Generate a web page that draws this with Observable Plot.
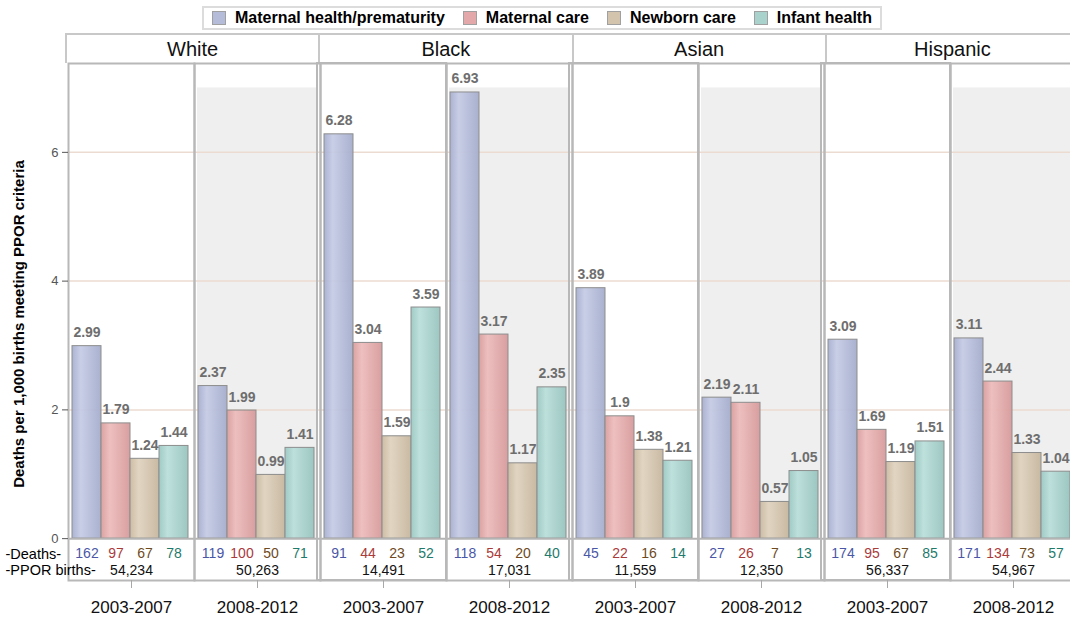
<!DOCTYPE html>
<html>
<head>
<meta charset="utf-8">
<script src="https://cdn.jsdelivr.net/npm/d3@7"></script>
<script src="https://cdn.jsdelivr.net/npm/@observablehq/plot@0.6"></script>
<style>
  html, body { margin: 0; padding: 0; background: #fff; overflow: hidden; }
  body { width: 1070px; height: 619px; position: relative; font-family: "Liberation Sans", Arial, sans-serif; }
  #legend { position: absolute; left: 202px; top: 6px; height: 18px; padding: 1px 8px 1px 8px; border: 2px solid #dcdcdc; display: flex; align-items: center; white-space: nowrap; background: #fff; }
  #legend .item { display: flex; align-items: center; margin-right: 18px; font-weight: bold; font-size: 16px; color: #000; }
  #legend .item:last-child { margin-right: 0; }
  #legend .sw { width: 14px; height: 14px; border: 1px solid #a0a0a0; margin-right: 9px; box-sizing: border-box; }
  #headers { position: absolute; top: 33px; left: 65px; height: 30px; display: flex; }
  #headers .h { height: 30px; box-sizing: border-box; border-top: 2px solid #c8c8c8; border-left: 2px solid #c8c8c8; font-size: 20px; color: #111; display: flex; align-items: center; justify-content: center; }
  #ylabel { position: absolute; left: 18px; top: 324px; transform: translate(-50%, -50%) rotate(-90deg); font-weight: bold; font-size: 15px; white-space: nowrap; color: #000; }
  #chart { position: absolute; left: 0; top: 30px; width: 1078px; }
</style>
</head>
<body>
<div id="legend"></div>
<div id="headers"></div>
<div id="ylabel">Deaths per 1,000 births meeting PPOR criteria</div>
<div id="chart"></div>
<script>
// ---- Data ----
const races = ["White", "Black", "Asian", "Hispanic"];
const periods = ["2003-2007", "2008-2012"];
const causes = ["Maternal health/prematurity", "Maternal care", "Newborn care", "Infant health"];

// rates (deaths per 1,000 PPOR births), per race, per period, per cause
const ratesWhite    = [[2.99, 1.79, 1.24, 1.44], [2.37, 1.99, 0.99, 1.41]];
const ratesBlack    = [[6.28, 3.04, 1.59, 3.59], [6.93, 3.17, 1.17, 2.35]];
const ratesAsian    = [[3.89, 1.9, 1.38, 1.21], [2.19, 2.11, 0.57, 1.05]];
const ratesHispanic = [[3.09, 1.69, 1.19, 1.51], [3.11, 2.44, 1.33, 1.04]];

// death counts
const deathsWhite    = [[162, 97, 67, 78], [119, 100, 50, 71]];
const deathsBlack    = [[91, 44, 23, 52], [118, 54, 20, 40]];
const deathsAsian    = [[45, 22, 16, 14], [27, 26, 7, 13]];
const deathsHispanic = [[174, 95, 67, 85], [171, 134, 73, 57]];

// PPOR births
const birthsWhite    = [54234, 50263];
const birthsBlack    = [14491, 17031];
const birthsAsian    = [11559, 12350];
const birthsHispanic = [56337, 54967];

const yTicks = [0, 2, 4, 6];
const shadeTop = 7;
const rowLabels = ["-Deaths-", "-PPOR births-"];

// ---- Styles ----
const barColors = ["#b5bcd9", "#e3a9aa", "#d3c4ad", "#a9d2cd"];
const gradStops = [
  ["#a7afd0", "#c6cce5", "#a5adcd"],
  ["#d99d9e", "#edbcbc", "#d79a9b"],
  ["#c9b9a0", "#e0d3bf", "#c6b69e"],
  ["#9cc8c3", "#badfda", "#99c4bf"]
];
const deathColors = ["#4a57a6", "#a93b3b", "#6e4a1c", "#1f7a6b"];

// ---- Build table ----
const allRates = [ratesWhite, ratesBlack, ratesAsian, ratesHispanic];
const allDeaths = [deathsWhite, deathsBlack, deathsAsian, deathsHispanic];
const allBirths = [birthsWhite, birthsBlack, birthsAsian, birthsHispanic];

const groupKey = (r, p) => races[r] + "|" + periods[p];
const groupKeys = [];
const rows = [];
const groups = [];
races.forEach((race, r) => {
  periods.forEach((period, p) => {
    const g = groupKey(r, p);
    groupKeys.push(g);
    groups.push({group: g, race, period, births: allBirths[r][p]});
    causes.forEach((cause, c) => {
      rows.push({group: g, race, period, cause, ci: c, rate: allRates[r][p][c], deaths: allDeaths[r][p][c]});
    });
  });
});
const shadeKeys = groups.filter(d => d.period === periods[1]).map(d => d.group);
const panelStartKeys = groups.filter(d => d.period === periods[0] && d.race !== races[0]).map(d => d.group);

// ---- Legend (HTML) ----
const legend = document.getElementById("legend");
causes.forEach((c, i) => {
  const it = document.createElement("div");
  it.className = "item";
  it.innerHTML = `<div class="sw" style="background:${barColors[i]}"></div><span>${c}</span>`;
  legend.appendChild(it);
});

// ---- Layout ----
const W = 1078, H = 589, mL = 65, mR = 0, mT = 33, mB = 39;
const panelW = (W - mL - mR) / races.length;
const headers = document.getElementById("headers");
races.forEach(r => {
  const h = document.createElement("div");
  h.className = "h";
  h.style.width = panelW + "px";
  h.textContent = r;
  headers.appendChild(h);
});

const fmtBirths = d3.format(",");
const font = '"Liberation Sans", Arial, sans-serif';

const plot = Plot.plot({
  width: W, height: H,
  marginLeft: mL, marginRight: mR, marginTop: mT, marginBottom: mB,
  style: {fontFamily: font, background: "transparent", maxWidth: "none"},
  fx: {domain: groupKeys, padding: 0, label: null},
  x: {domain: causes, paddingInner: 0, paddingOuter: 0.13, align: 0.35, axis: null},
  y: {domain: [-0.65, 7.38], axis: null},
  color: {type: "identity"},
  marks: [
    Plot.rect(shadeKeys, {fx: d => d, y1: 0, y2: shadeTop, insetLeft: 3, insetRight: 3, fill: "#efefef"}),
    Plot.gridY(yTicks.filter(t => t > 0), {stroke: "#ecdbd0", strokeOpacity: 1, strokeWidth: 1.5}),
    Plot.barY(rows, {
      fx: "group", x: "cause", y: "rate",
      fill: d => `url(#barGrad${d.ci})`,
      stroke: "#8d8d8d", strokeWidth: 1, fillOpacity: 0.95
    }),
    Plot.text(rows, {
      fx: "group", x: "cause", y: "rate", text: d => String(d.rate),
      dy: -9, lineAnchor: "bottom", fontWeight: "bold", fontSize: 14, fill: "#6e6e6e"
    }),
    Plot.ruleY([0], {stroke: "#b4b4b4", strokeWidth: 2}),
    Plot.frame({stroke: "#b8b8b8", strokeWidth: 2}),
    Plot.rect(panelStartKeys, {fx: d => d, fill: "none", stroke: "#b8b8b8", strokeWidth: 2, insetLeft: -3}),
    // table: deaths row
    Plot.text(rows, {
      fx: "group", x: "cause", text: d => String(d.deaths),
      frameAnchor: "bottom", dy: -23, fontSize: 14, fill: d => deathColors[d.ci]
    }),
    // table: births row
    Plot.text(groups, {
      fx: "group", text: d => fmtBirths(d.births),
      frameAnchor: "bottom", dy: -6, fontSize: 14, fill: "#111"
    }),
    // row labels
    Plot.text(rowLabels.slice(0, 1), {fx: () => groupKeys[0], text: d => d, frameAnchor: "bottom-left", dx: -63, dy: -22, textAnchor: "start", fontSize: 14.5, fill: "#000"}),
    Plot.text(rowLabels.slice(1), {fx: () => groupKeys[0], text: d => d, frameAnchor: "bottom-left", dx: -63, dy: -6, textAnchor: "start", fontSize: 14.5, fill: "#000"}),
    Plot.axisY({ticks: yTicks, tickSize: 6, tickPadding: 4, fontSize: 13, color: "#555", label: null}),
    Plot.axisFx({anchor: "bottom", tickSize: 8, tickFormat: () => "", color: "#a8a8a8", label: null}),
    Plot.axisFx({anchor: "bottom", tickSize: 0, tickPadding: 20, tickFormat: k => k.split("|")[1], fontSize: 17, color: "#111", label: null})
  ]
});

// gradient defs for bars
const defs = d3.select(plot).insert("defs", ":first-child");
gradStops.forEach((s, i) => {
  const g = defs.append("linearGradient").attr("id", "barGrad" + i).attr("x1", "0").attr("x2", "1").attr("y1", "0").attr("y2", "0");
  g.append("stop").attr("offset", "0%").attr("stop-color", s[0]);
  g.append("stop").attr("offset", "30%").attr("stop-color", s[1]);
  g.append("stop").attr("offset", "100%").attr("stop-color", s[2]);
});

document.getElementById("chart").appendChild(plot);
</script>
</body>
</html>
